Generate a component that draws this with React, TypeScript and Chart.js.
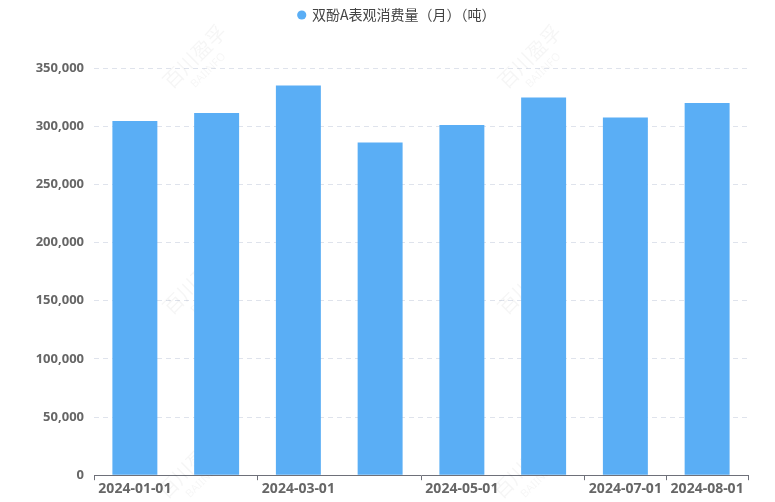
import React, { useEffect, useRef } from "react";
import { Chart, registerables } from "chart.js";

Chart.register(...registerables);

const categories = [
  "2024-01-01",
  "2024-02-01",
  "2024-03-01",
  "2024-04-01",
  "2024-05-01",
  "2024-06-01",
  "2024-07-01",
  "2024-08-01",
];
const seriesName = "双酚A表观消费量（月）（吨）";
const consumption = [304400, 311300, 335000, 286000, 301000, 324600, 307400, 319900];
const shownLabelIdx = [0, 2, 4, 6, 7];
const yMax = 350000;
const yStep = 50000;
const watermarkCN = "百川盈孚";
const watermarkEN = "BAIINFO";

const legendSpacer = {
  id: "legendSpacer",
  beforeInit(chart: any) {
    const orig = chart.legend.fit;
    chart.legend.fit = function fit() {
      orig.call(this);
      this.height += 36;
    };
  },
  afterLayout(chart: any) {
    chart.legend.left += 23;
    chart.legend.right += 23;
  },
};

const watermark = {
  id: "watermark",
  beforeDatasetsDraw(chart: any) {
    const ctx = chart.ctx;
    const spots = [
      [200, 62],
      [535, 62],
      [200, 288],
      [535, 288],
      [195, 472],
      [530, 472],
    ];
    ctx.save();
    ctx.fillStyle = "rgba(0,0,0,0.04)";
    ctx.textAlign = "center";
    ctx.textBaseline = "middle";
    for (const [x, y] of spots) {
      ctx.save();
      ctx.translate(x, y);
      ctx.rotate(-Math.PI / 4);
      ctx.font = "20px 'Noto Sans CJK SC'";
      ctx.fillText(watermarkCN, 0, -8);
      ctx.font = "11px 'Noto Sans'";
      ctx.fillText(watermarkEN, 0, 12);
      ctx.restore();
    }
    ctx.restore();
  },
};

export default function App() {
  const ref = useRef<HTMLCanvasElement | null>(null);

  useEffect(() => {
    document.body.style.margin = "0";
    const chart = new Chart(ref.current as HTMLCanvasElement, {
      type: "bar",
      data: {
        labels: categories,
        datasets: [
          {
            label: seriesName,
            data: consumption,
            backgroundColor: "#5aaef5",
            borderWidth: 0,
            categoryPercentage: 0.55,
            barPercentage: 1,
          },
        ],
      },
      plugins: [legendSpacer, watermark],
      options: {
        animation: false,
        responsive: true,
        maintainAspectRatio: false,
        layout: { padding: { top: 4, right: 27, left: 0, bottom: 5 } },
        plugins: {
          legend: {
            display: true,
            position: "top",
            labels: {
              usePointStyle: true,
              pointStyle: "circle",
              boxWidth: 6.5,
              boxHeight: 6.5,
              color: "#444",
              font: { size: 14, family: "'Noto Sans CJK SC', sans-serif" },
              padding: 4,
            },
          },
          tooltip: { enabled: false },
        },
        scales: {
          x: {
            offset: true,
            grid: {
              offset: true,
              drawOnChartArea: false,
              drawTicks: true,
              tickLength: 5,
              color: (c: any) =>
                c.type !== "tick" || shownLabelIdx.includes(c.index) ? "#6e7079" : "rgba(0,0,0,0)",
            },
            border: { display: true, color: "#6e7079", width: 1 },
            ticks: {
              autoSkip: false,
              maxRotation: 0,
              padding: 0,
              color: "#666",
              font: { size: 14, weight: "bold", family: "'Noto Sans', sans-serif" },
              callback: (_v: any, i: number) => (shownLabelIdx.includes(i) ? categories[i] : ""),
            },
          },
          y: {
            min: 0,
            max: yMax,
            afterFit: (s: any) => {
              s.width = 94;
            },
            border: { display: false, dash: [5, 4] },
            grid: {
              drawTicks: false,
              color: (c: any) => (c.tick && c.tick.value === 0 ? "rgba(0,0,0,0)" : "#dfe3ec"),
            },
            ticks: {
              stepSize: yStep,
              padding: 10,
              color: "#666",
              font: { size: 13, weight: "bold", family: "'Noto Sans', sans-serif" },
              callback: (v: any) => Number(v).toLocaleString("en-US"),
            },
          },
        },
      },
    });
    return () => chart.destroy();
  }, []);

  return (
    <div style={{ position: "absolute", left: 0, top: 0, width: 775, height: 502 }}>
      <canvas ref={ref} />
    </div>
  );
}
